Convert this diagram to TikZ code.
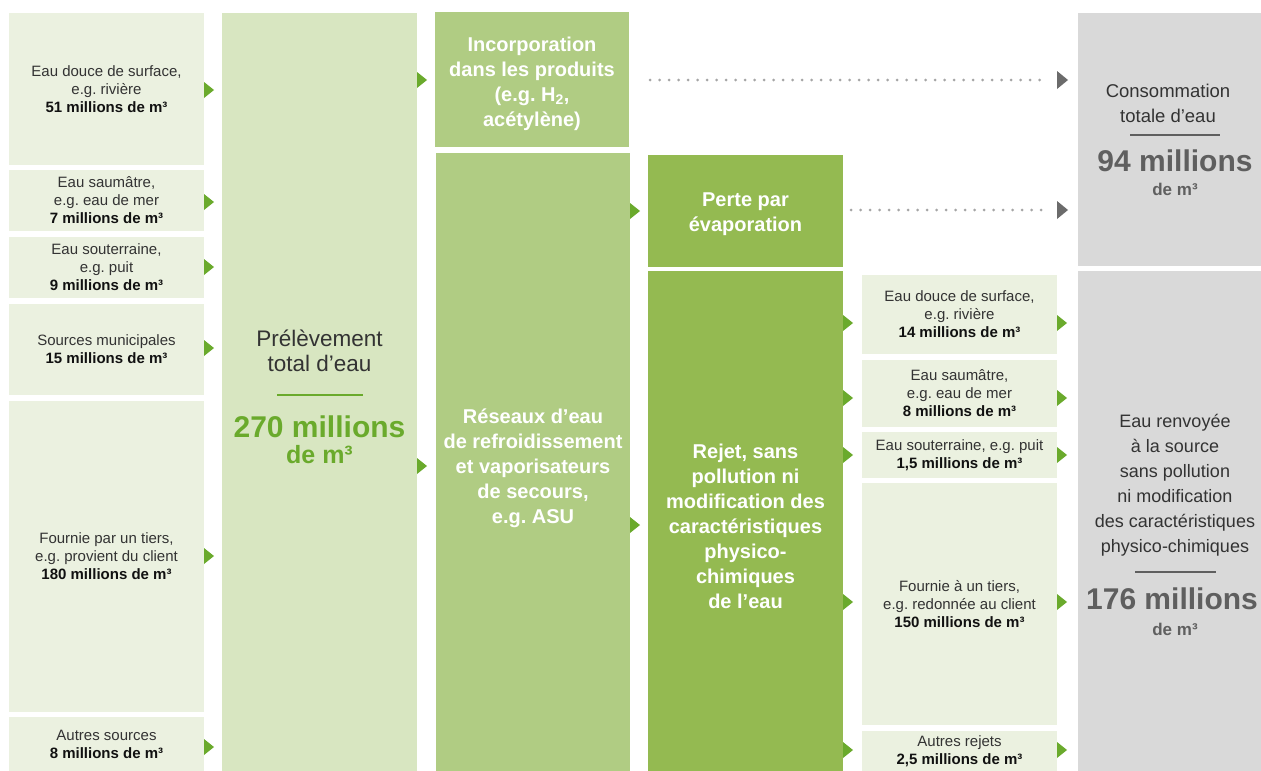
\documentclass[tikz,border=0pt]{standalone}
\usepackage{fontspec}
\setmainfont{Liberation Sans}
\frenchspacing
\definecolor{srcbg}{HTML}{EBF1E0}
\definecolor{prelbg}{HTML}{D8E6C1}
\definecolor{midbg}{HTML}{B0CC83}
\definecolor{darkbg}{HTML}{94BA51}
\definecolor{graybg}{HTML}{D9D9D9}
\definecolor{agreen}{HTML}{6AAA2C}
\definecolor{bignum}{HTML}{6AAA2C}
\definecolor{txtdark}{HTML}{333333}
\definecolor{txtbold}{HTML}{111111}
\definecolor{graynum}{HTML}{5F5F5F}
\definecolor{dotgray}{HTML}{A5A5A5}
\definecolor{tipgray}{HTML}{6B6B6B}
\newcommand{\myfs}[2]{\fontsize{#1}{#2}\selectfont}
\begin{document}
\frenchspacing
\begin{tikzpicture}[x=1pt,y=-1pt,
  boxbase/.style={rectangle, inner sep=0pt, outer sep=0pt, anchor=north west, align=center},
  src/.style={boxbase, fill=srcbg, text=txtdark, font=\frenchspacing\myfs{15}{18}},
  prel/.style={boxbase, fill=prelbg},
  mid/.style={boxbase, fill=midbg},
  dark/.style={boxbase, fill=darkbg},
  grayb/.style={boxbase, fill=graybg},
  whitetxt/.style={align=center, text=white, font=\frenchspacing\bfseries\myfs{20}{25}, inner sep=0pt},
  graytxt/.style={align=center, text=txtdark, font=\myfs{18.5}{25}, inner sep=0pt},
  gtri/.pic={\fill[agreen] (0,-8) -- (10,0) -- (0,8) -- cycle;},
  ytri/.pic={\fill[tipgray] (0,-9) -- (11,0) -- (0,9) -- cycle;},
  dotline/.style={dotgray, line width=3pt, line cap=round, dash pattern=on 0pt off 9.5pt},
  rulegreen/.style={agreen, line width=2.5pt},
  rulegray/.style={graynum, line width=2.5pt},
]
\useasboundingbox[fill=white] (0,0) rectangle (1261,771);

% Column 1: sources
\node[src, minimum width=195pt, minimum height=152pt] (s1) at (9,13) {Eau douce de surface,\\e.g. rivière\\\textbf{\color{txtbold}51 millions de m³}};
\node[src, minimum width=195pt, minimum height=61pt] (s2) at (9,170) {Eau saumâtre,\\e.g. eau de mer\\\textbf{\color{txtbold}7 millions de m³}};
\node[src, minimum width=195pt, minimum height=61pt] (s3) at (9,237) {Eau souterraine,\\e.g. puit\\\textbf{\color{txtbold}9 millions de m³}};
\node[src, minimum width=195pt, minimum height=91pt] (s4) at (9,304) {Sources municipales\\\textbf{\color{txtbold}15 millions de m³}};
\node[src, minimum width=195pt, minimum height=311pt] (s5) at (9,401) {Fournie par un tiers,\\e.g. provient du client\\\textbf{\color{txtbold}180 millions de m³}};
\node[src, minimum width=195pt, minimum height=54pt] (s6) at (9,717) {Autres sources\\\textbf{\color{txtbold}8 millions de m³}};
\foreach \n/\yy in {s1/90,s2/202,s3/267,s4/348,s5/556,s6/747}
  \pic at (\n.east |- 0,\yy) {gtri};

% Column 2: total withdrawal
\node[prel, minimum width=195pt, minimum height=758pt] (prel) at (222,13) {};
\node[align=center, text=txtdark, font=\myfs{22.5}{25}, inner sep=0pt] (prelT) at (319.5,351) {Prélèvement\\total d’eau};
\coordinate (prelRa) at (277,395);
\coordinate (prelRb) at (363,395);
\draw[rulegreen] (prelRa) -- (prelRb);
\node[anchor=base, text=bignum, font=\bfseries\myfs{30}{30}, inner sep=0pt] (prelN) at (319.5,437) {270 millions};
\node[anchor=base, text=bignum, font=\bfseries\myfs{25}{25}, inner sep=0pt] (prelU) at (319.5,463) {de m³};
\pic at (prel.east |- 0,80) {gtri};
\pic at (prel.east |- 0,466) {gtri};

% Column 3
\node[mid, minimum width=194pt, minimum height=135pt] (inc) at (435,12) {};
\node[whitetxt] (incT) at (532,84) {Incorporation\\dans les produits\\(e.g. H\textsubscript{2},\\acétylène)};
\node[mid, minimum width=194pt, minimum height=618pt] (res) at (436,153) {};
\node[whitetxt] (resT) at (533,468) {Réseaux d’eau\\de refroidissement\\et vaporisateurs\\de secours,\\e.g. ASU};
\pic at (res.east |- 0,211) {gtri};
\pic at (res.east |- 0,525) {gtri};

% Column 4
\node[dark, minimum width=195pt, minimum height=112pt] (perte) at (648,155) {};
\node[whitetxt] (perteT) at (745.5,214) {Perte par\\évaporation};
\node[dark, minimum width=195pt, minimum height=500pt] (rejet) at (648,271) {};
\node[whitetxt] (rejetT) at (745.5,526) {Rejet, sans\\pollution ni\\modification des\\caractéristiques\\physico-\\chimiques\\de l’eau};
\foreach \yy in {323,398,455,602,750}
  \pic at (rejet.east |- 0,\yy) {gtri};

% Column 5: discharges
\node[src, minimum width=195pt, minimum height=79pt] (r1) at (862,275) {Eau douce de surface,\\e.g. rivière\\\textbf{\color{txtbold}14 millions de m³}};
\node[src, minimum width=195pt, minimum height=67pt] (r2) at (862,360) {Eau saumâtre,\\e.g. eau de mer\\\textbf{\color{txtbold}8 millions de m³}};
\node[src, minimum width=195pt, minimum height=46pt] (r3) at (862,432) {Eau souterraine, e.g. puit\\\textbf{\color{txtbold}1,5 millions de m³}};
\node[src, minimum width=195pt, minimum height=242pt] (r4) at (862,483) {Fournie à un tiers,\\e.g. redonnée au client\\\textbf{\color{txtbold}150 millions de m³}};
\node[src, minimum width=195pt, minimum height=40pt] (r5) at (862,731) {Autres rejets\\\textbf{\color{txtbold}2,5 millions de m³}};
\foreach \n/\yy in {r1/323,r2/398,r3/455,r4/602,r5/750}
  \pic at (\n.east |- 0,\yy) {gtri};

% Column 6: gray totals
\node[grayb, minimum width=183pt, minimum height=253pt] (conso) at (1078,13) {};
\node[graytxt] (consoT) at (1168,103) {Consommation\\totale d’eau};
\coordinate (consoRa) at (1130,135);
\coordinate (consoRb) at (1220,135);
\draw[rulegray] (consoRa) -- (consoRb);
\node[anchor=base, text=graynum, font=\bfseries\myfs{30}{30}, inner sep=0pt] (consoN) at (1175,171) {94 millions};
\node[anchor=base, text=graynum, font=\bfseries\myfs{17}{17}, inner sep=0pt] (consoU) at (1175,195) {de m³};

\node[grayb, minimum width=183pt, minimum height=500pt] (renv) at (1078,271) {};
\node[graytxt, font=\myfs{18}{25}] (renvT) at (1175,485) {Eau renvoyée\\à la source\\sans pollution\\ni modification\\des caractéristiques\\physico-chimiques};
\coordinate (renvRa) at (1135,572);
\coordinate (renvRb) at (1216,572);
\draw[rulegray] (renvRa) -- (renvRb);
\node[anchor=base, text=graynum, font=\bfseries\myfs{30}{30}, inner sep=0pt] (renvN) at (1172,609) {176 millions};
\node[anchor=base, text=graynum, font=\bfseries\myfs{17}{17}, inner sep=0pt] (renvU) at (1175,635) {de m³};

% Dotted connectors to consumption
\coordinate (d1s) at (650,80);
\coordinate (d1e) at (1046,80);
\draw[dotline] (d1s) -- (d1e);
\pic at (1057,80) {ytri};
\coordinate (d2s) at (851,210);
\coordinate (d2e) at (1046,210);
\draw[dotline] (d2s) -- (d2e);
\pic at (1057,210) {ytri};
\end{tikzpicture}
\end{document}
